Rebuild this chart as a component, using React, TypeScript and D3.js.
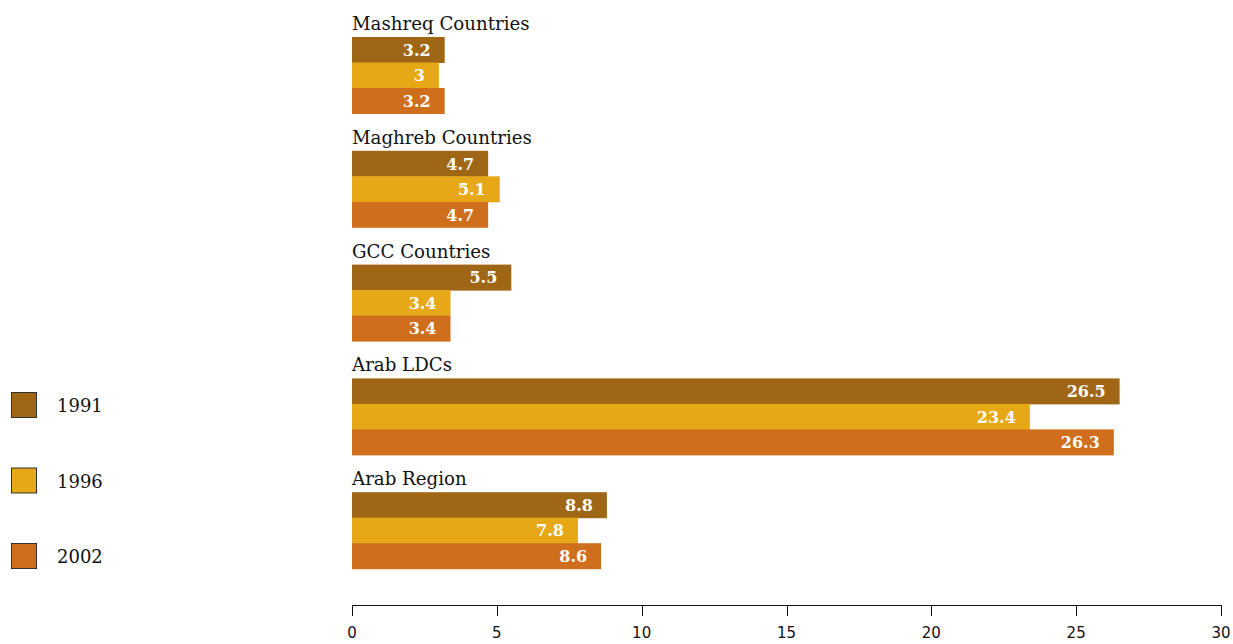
import React from "react";
import * as d3 from "d3";

const categories = ["Mashreq Countries", "Maghreb Countries", "GCC Countries", "Arab LDCs", "Arab Region"];
const years = ["1991", "1996", "2002"];
const values1991 = [3.2, 4.7, 5.5, 26.5, 8.8];
const values1996 = [3, 5.1, 3.4, 23.4, 7.8];
const values2002 = [3.2, 4.7, 3.4, 26.3, 8.6];
const colors = ["#9f6615", "#e6a817", "#cf6e1c"];
const ticks = [0, 5, 10, 15, 20, 25, 30];

export default function App() {
  const W = 1233, H = 644;
  const series = [values1991, values1996, values2002];
  const x = d3.scaleLinear().domain([0, 30]).range([352, 1221]);
  const g = d3.scaleBand().domain(categories).range([23, 592]).paddingInner(0).paddingOuter(0);
  const barH = 25.5;
  const serif = "'DejaVu Serif', serif";
  const sans = "'DejaVu Sans', sans-serif";
  return (
    <svg width={W} height={H} style={{ position: "absolute", left: 0, top: 0, background: "#fff" }}>
      {categories.map((c, i) => {
        const y0 = g(c)!;
        return (
          <g key={c}>
            <text x={352} y={y0 + 7} fontFamily={serif} fontSize={18.2} fill="#111">{c}</text>
            {series.map((s, j) => {
              const y = y0 + 14 + j * barH;
              return (
                <g key={j}>
                  <rect x={x(0)} y={y} width={x(s[i]) - x(0)} height={barH + 0.5} fill={colors[j]} />
                  <text x={x(s[i]) - 14} y={y + barH / 2 + 6} textAnchor="end" fontFamily={serif}
                    fontWeight="bold" fontSize={16} fill="#fff">{String(s[i])}</text>
                </g>
              );
            })}
          </g>
        );
      })}
      {years.map((yr, j) => {
        const cy = 405 + j * 75.5;
        return (
          <g key={yr}>
            <rect x={11.5} y={cy - 12.5} width={25} height={25} fill={colors[j]} stroke="#333" strokeWidth={1} />
            <text x={57} y={cy + 7} fontFamily={serif} fontSize={18} fill="#111">{yr}</text>
          </g>
        );
      })}
      <line x1={x(0)} x2={x(30)} y1={605.5} y2={605.5} stroke="#111" strokeWidth={1} />
      {ticks.map(t => (
        <g key={t}>
          <line x1={Math.round(x(t)) + 0.5} x2={Math.round(x(t)) + 0.5} y1={605} y2={616} stroke="#111" strokeWidth={1} />
          <text x={x(t)} y={638} textAnchor="middle" fontFamily={sans} fontSize={15} fill="#111">{t}</text>
        </g>
      ))}
    </svg>
  );
}
